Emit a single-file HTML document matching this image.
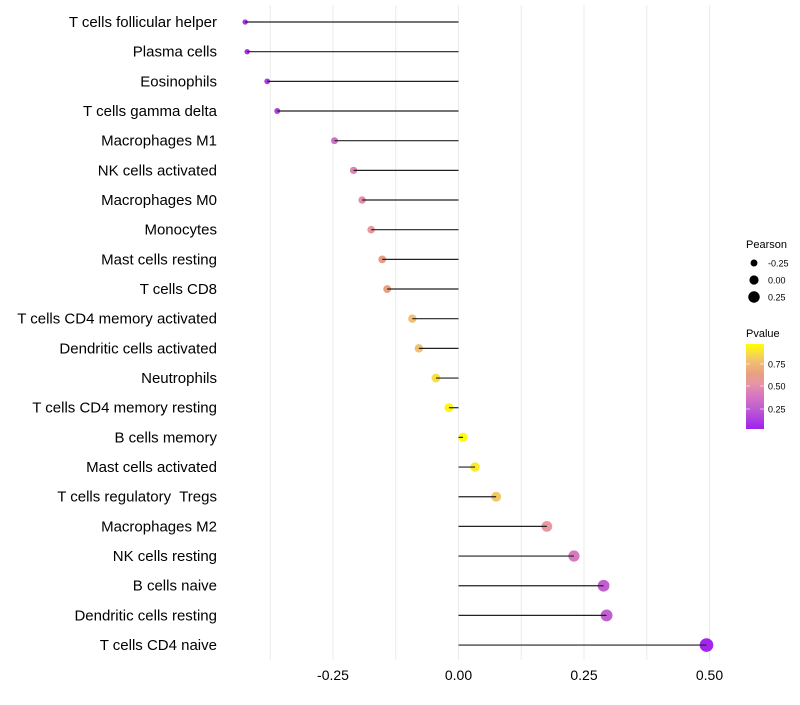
<!DOCTYPE html>
<html><head><meta charset="utf-8"><style>
body{margin:0;background:#fff;font-family:"Liberation Sans",sans-serif}
svg text{font-family:"Liberation Sans",sans-serif;white-space:pre}
</style></head><body>
<svg id="c" width="800" height="700"></svg>
<script>
const categories=["T cells follicular helper","Plasma cells","Eosinophils","T cells gamma delta","Macrophages M1","NK cells activated","Macrophages M0","Monocytes","Mast cells resting","T cells CD8","T cells CD4 memory activated","Dendritic cells activated","Neutrophils","T cells CD4 memory resting","B cells memory","Mast cells activated","T cells regulatory  Tregs","Macrophages M2","NK cells resting","B cells naive","Dendritic cells resting","T cells CD4 naive"];
const pearson=[-0.425,-0.421,-0.381,-0.361,-0.247,-0.209,-0.192,-0.174,-0.152,-0.142,-0.092,-0.079,-0.045,-0.019,0.009,0.033,0.075,0.176,0.230,0.289,0.295,0.494];
const pvalue=[0.08,0.08,0.1,0.12,0.35,0.45,0.5,0.55,0.63,0.65,0.8,0.8,0.9,0.97,0.99,0.93,0.82,0.55,0.4,0.25,0.25,0.02];
const xTicks=[-0.25,0,0.25,0.5];
const xLabels=["-0.25","0.00","0.25","0.50"];
const svg=document.getElementById('c');const NS="http://www.w3.org/2000/svg";
function mk(t,a,p){const e=document.createElementNS(NS,t);for(const k in a)e.setAttribute(k,a[k]);(p||svg).appendChild(e);return e;}
const x=v=>458.5+v*502;
const y=i=>22+i*29.67;
const r=v=>4.6+4.5*v;
const stops=[[0,[160,32,240]],[0.25,[192,96,208]],[0.4,[216,120,192]],[0.55,[232,152,160]],[0.65,[232,160,128]],[0.8,[242,192,112]],[0.9,[248,224,64]],[1,[255,255,0]]];
function col(p){for(let k=1;k<stops.length;k++){if(p<=stops[k][0]){const [a,ca]=stops[k-1],[b,cb]=stops[k];const t=(p-a)/(b-a);return `rgb(${ca.map((c,j)=>Math.round(c+(cb[j]-c)*t)).join(',')})`;}}return 'rgb(255,255,0)';}
for(let g=-0.375;g<=0.5;g+=0.125){const l=mk('line',{x1:x(g),x2:x(g),y1:5,y2:660,stroke:'#ebebeb','stroke-width':1});}
xTicks.forEach((v,i)=>{const t=mk('text',{x:x(v),y:680,'text-anchor':'middle','font-size':14,fill:'#000'});t.textContent=xLabels[i];});
categories.forEach((c,i)=>{
const t=mk('text',{x:217,y:y(i)+5,'text-anchor':'end','font-size':15,fill:'#000'});t.textContent=c;
const d=mk('circle',{cx:x(pearson[i]),cy:y(i),r:r(pearson[i]),fill:col(pvalue[i])});
const l=mk('line',{x1:x(0),x2:x(pearson[i]),y1:y(i),y2:y(i),stroke:'#222','stroke-width':1.2});
});
const lg=mk('g',{});
mk('text',{x:746,y:248,'font-size':11},lg).textContent='Pearson';
[[-0.25,263],[0,280],[0.25,297]].forEach(([v,yy])=>{mk('circle',{cx:754,cy:yy,r:r(v),fill:'#000'},lg);const t=mk('text',{x:768,y:yy+3.5,'font-size':9},lg);t.textContent=v===0?'0.00':v.toFixed(2);});
mk('text',{x:746,y:337,'font-size':11},lg).textContent='Pvalue';
const defs=mk('defs',{});const gr=mk('linearGradient',{id:'gp',x1:0,y1:1,x2:0,y2:0},defs);
stops.forEach(s=>mk('stop',{offset:s[0],'stop-color':col(s[0])},gr));
mk('rect',{x:746,y:344,width:18,height:85,fill:'url(#gp)'},lg);
[[0.75,364],[0.5,386],[0.25,409]].forEach(([v,yy])=>{mk('line',{x1:746,x2:750,y1:yy,y2:yy,stroke:'#fff','stroke-width':0.6},lg);mk('line',{x1:760,x2:764,y1:yy,y2:yy,stroke:'#fff','stroke-width':0.6},lg);mk('text',{x:768,y:yy+3.5,'font-size':9},lg).textContent=v.toFixed(2);});
</script></body></html>
